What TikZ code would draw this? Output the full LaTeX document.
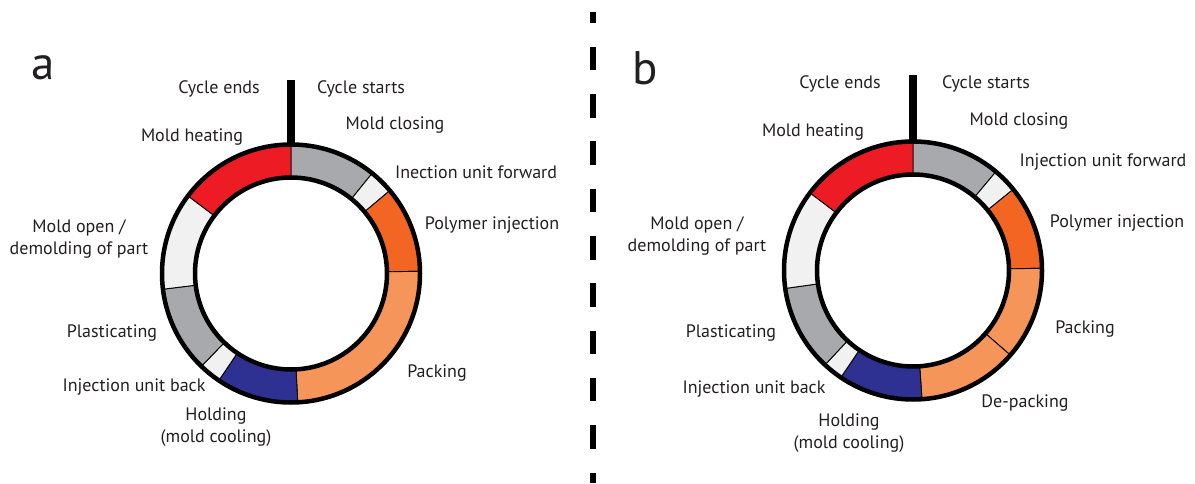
\documentclass[tikz,border=0pt]{standalone}
\usepackage{fontspec}
\setmainfont{PT Sans}
\definecolor{ringgray}{HTML}{A7A9AC}
\definecolor{ringwhite}{HTML}{F1F1F2}
\definecolor{darkorange}{HTML}{F26522}
\definecolor{lightorange}{HTML}{F5955A}
\definecolor{ringred}{HTML}{ED1C24}
\definecolor{ringblue}{HTML}{2E3192}
\definecolor{textblack}{HTML}{231F20}

\begin{document}
\begin{tikzpicture}[
    x=1pt, y=1pt,
    % Styles
    step_label/.style={font=\fontsize{18}{21.5}\selectfont, text=textblack, align=center, inner sep=0pt},
    panel_letter/.style={font=\fontsize{47}{50}\selectfont, text=textblack, inner sep=0pt, anchor=base},
    seg_line/.style={draw=black, line width=0.9pt},
    ring_line/.style={draw=black, line width=4.5pt},
    start_bar/.style={draw=black, line width=8pt},
    divider/.style={draw=black, line width=6pt, dash pattern=on 23.5pt off 23.8pt, dash phase=12.5pt}
]

    \useasboundingbox (0,0) rectangle (1195,483);

    % 1. RING CENTRES
    \coordinate (ca) at (291,209.5);
    \coordinate (cb) at (913,212.5);

    % 2. RING A SEGMENTS (clockwise from the top)
    \foreach \from/\to/\col in {90/51/ringgray, 51/40/ringwhite, 40/1/darkorange, 1/-87/lightorange,
        -87/-124/ringblue, -124/-134/ringwhite, -134/-173/ringgray, -173/-217/ringwhite, -217/-270/ringred}
        \filldraw[seg_line, fill=\col, shift={(ca)}] (\from:129) arc[start angle=\from, end angle=\to, radius=129]
            -- (\to:96) arc[start angle=\to, end angle=\from, radius=96] -- cycle;

    % 3. RING B SEGMENTS
    \foreach \from/\to/\col in {90/50/ringgray, 50/39/ringwhite, 39/1/darkorange, 1/-41/lightorange,
        -41/-86/lightorange, -86/-124/ringblue, -124/-133/ringwhite, -133/-172/ringgray,
        -172/-217/ringwhite, -217/-270/ringred}
        \filldraw[seg_line, fill=\col, shift={(cb)}] (\from:129) arc[start angle=\from, end angle=\to, radius=129]
            -- (\to:96) arc[start angle=\to, end angle=\from, radius=96] -- cycle;

    % 4. RING OUTLINES AND START BARS
    \draw[ring_line] (ca) circle[radius=129];
    \draw[ring_line] (ca) circle[radius=96];
    \draw[ring_line] (cb) circle[radius=129];
    \draw[ring_line] (cb) circle[radius=96];
    \draw[start_bar] (ca) ++(0,127) coordinate (bar_a_bot) -- ++(0,66.5) coordinate (bar_a_top);
    \draw[start_bar] (cb) ++(0,127) coordinate (bar_b_bot) -- ++(0,68.5) coordinate (bar_b_top);

    % 5. DASHED SEPARATOR
    \coordinate (sep_top) at (593,471);
    \coordinate (sep_bot) at (593,0);
    \draw[divider] (sep_top) -- (sep_bot);

    % 6. PANEL A LABELS
    \node[panel_letter] (letter_a) at (43,403) {a};
    \node[step_label] (end_a) at (219,394) {Cycle ends};
    \node[step_label] (start_a) at (361,394) {Cycle starts};
    \node[step_label] (heat_a) at (192,346) {Mold heating};
    \node[step_label] (close_a) at (395,358) {Mold closing};
    \node[step_label] (fwd_a) at (476,311) {Inection unit forward};
    \node[step_label] (inject_a) at (492,258) {Polymer injection};
    \node[step_label] (pack_a) at (437,110) {Packing};
    \node[step_label] (open_a) at (79,244) {Mold open /\\demolding of part};
    \node[step_label] (plast_a) at (112,150) {Plasticating};
    \node[step_label] (back_a) at (134,96) {Injection unit back};
    \node[step_label] (hold_a) at (216,56) {Holding\\(mold cooling)};

    % 7. PANEL B LABELS
    \node[panel_letter] (letter_b) at (645,398) {b};
    \node[step_label] (end_b) at (840,399) {Cycle ends};
    \node[step_label] (start_b) at (986,399) {Cycle starts};
    \node[step_label] (heat_b) at (813,351) {Mold heating};
    \node[step_label] (close_b) at (1019,362) {Mold closing};
    \node[step_label] (fwd_b) at (1103,321) {Injection unit forward};
    \node[step_label] (inject_b) at (1117,260) {Polymer injection};
    \node[step_label] (pack_b) at (1085,154) {Packing};
    \node[step_label] (depack_b) at (1025,80) {De-packing};
    \node[step_label] (open_b) at (697,247) {Mold open /\\demolding of part};
    \node[step_label] (plast_b) at (731,150) {Plasticating};
    \node[step_label] (back_b) at (754,94) {Injection unit back};
    \node[step_label] (hold_b) at (849,50) {Holding\\(mold cooling)};

\end{tikzpicture}
\end{document}
